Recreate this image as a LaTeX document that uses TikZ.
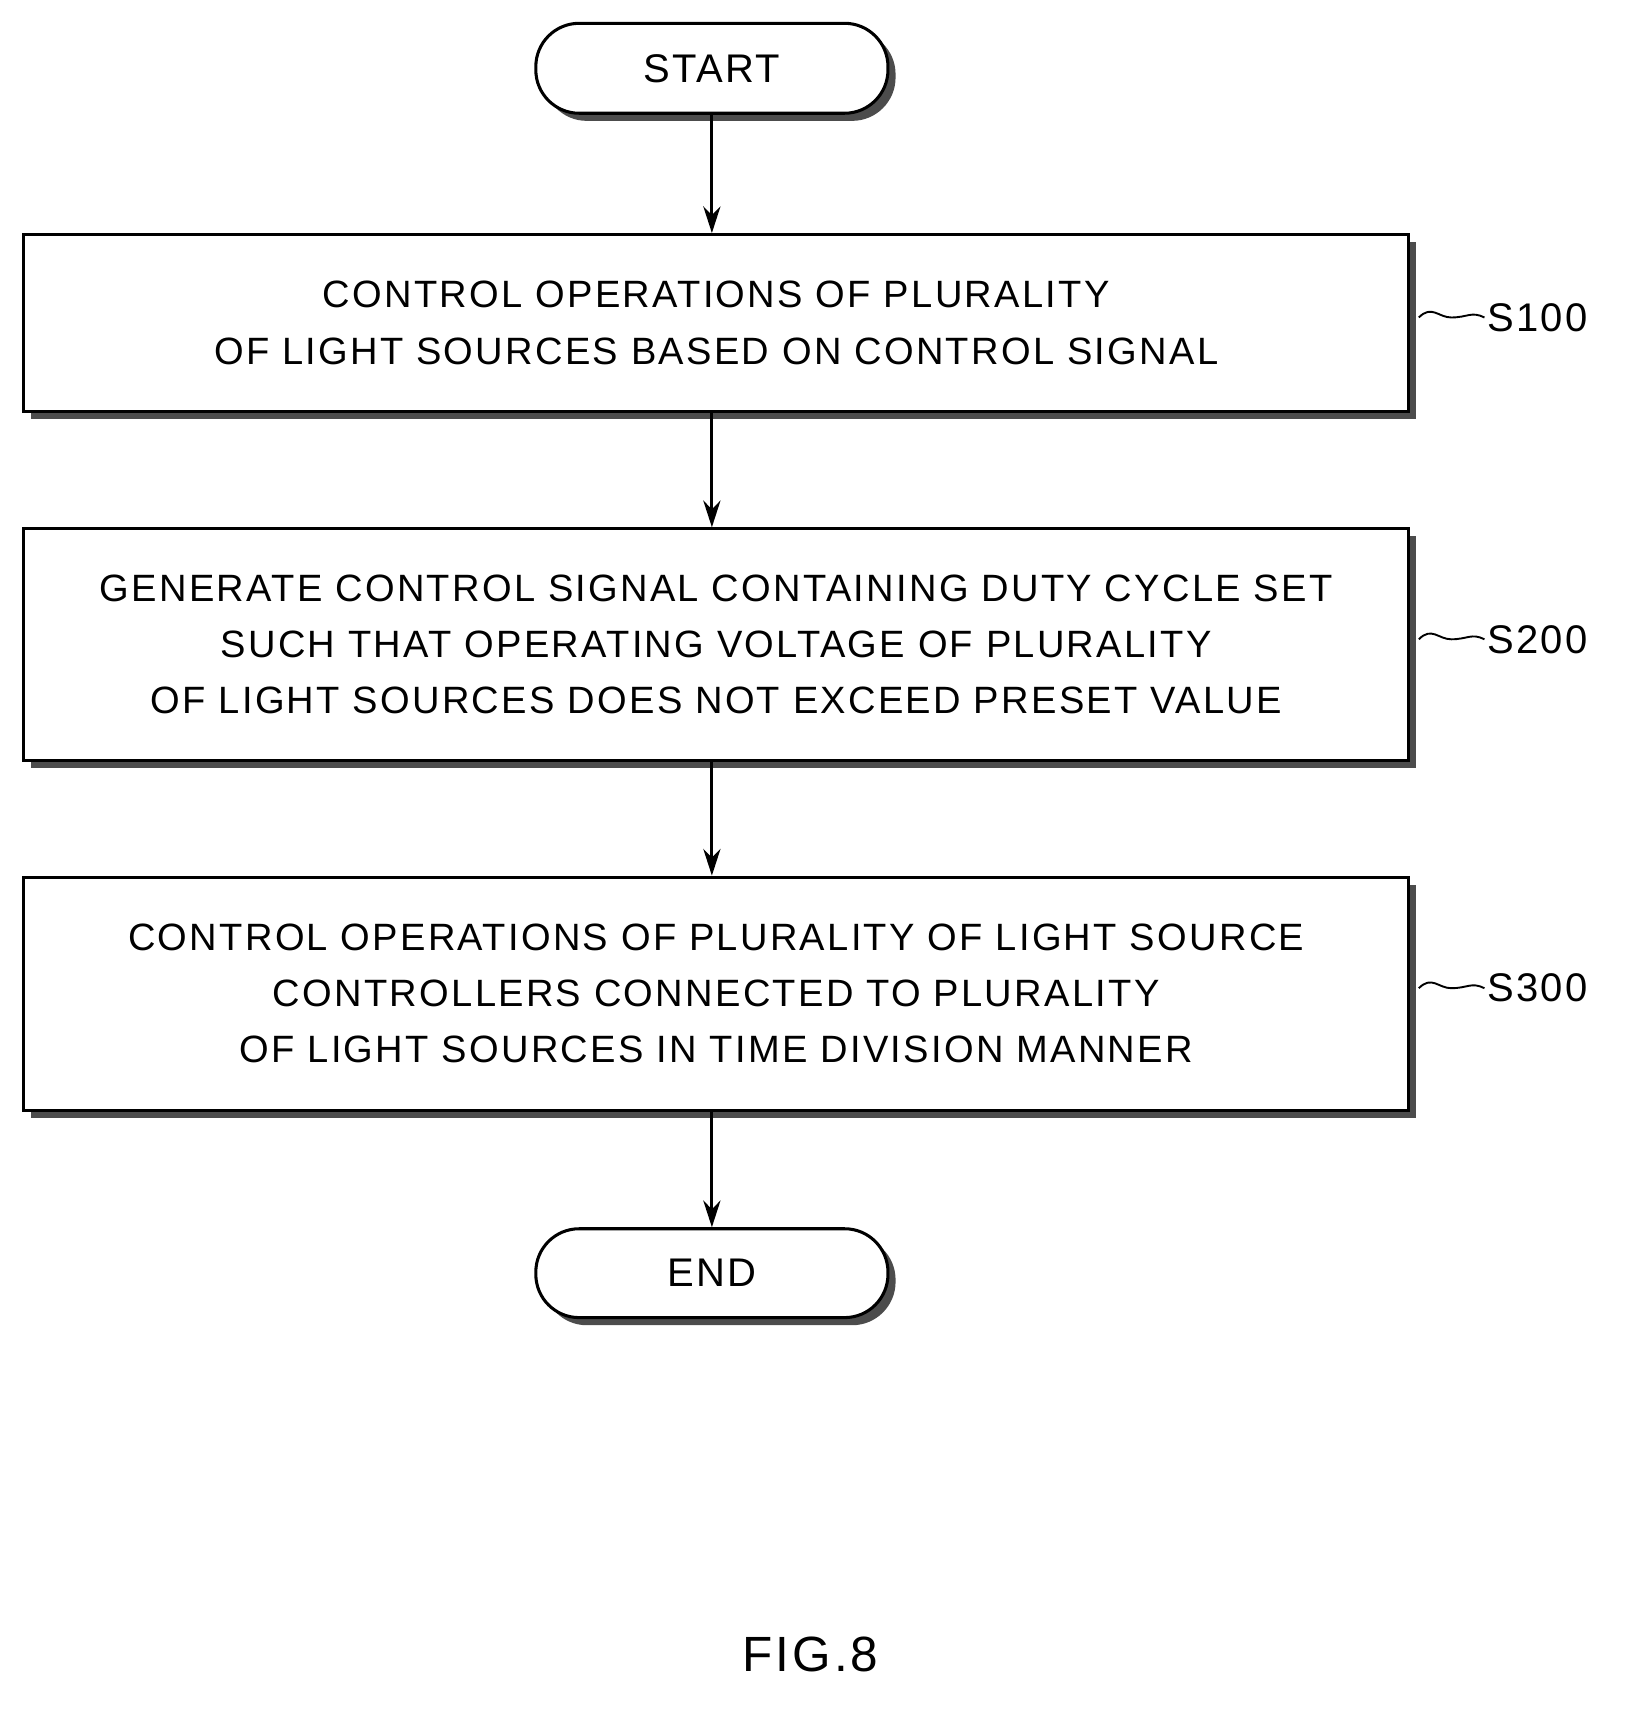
\documentclass[tikz,border=0pt]{standalone}
\usepackage{fontspec}
\setmainfont{Liberation Sans}[LetterSpace=6]
\usetikzlibrary{shadows,arrows.meta,calc}
\begin{document}
\begin{tikzpicture}[x=0.02cm,y=-0.02cm,
  box/.style={draw,line width=1.6pt,fill=white,minimum width=1278*0.02cm,align=center,
    font=\fontsize{20}{29.5}\selectfont,
    drop shadow={shadow xshift=4pt,shadow yshift=-4pt,fill=black!70,opacity=1}},
  term/.style={draw,line width=1.6pt,fill=white,rounded corners=0.8cm,minimum width=325*0.02cm,
    font=\fontsize{21}{26}\selectfont,
    drop shadow={shadow xshift=4pt,shadow yshift=-4pt,fill=black!70,opacity=1}},
  arr/.style={-{Stealth[length=14pt,width=9pt]},line width=1.6pt},
  lab/.style={font=\fontsize{21}{26}\selectfont,anchor=west,inner sep=0pt}]
\useasboundingbox (0,0) rectangle (1501,1580);
\node[term,minimum height=83*0.02cm] (start) at (657,63) {START};
\node[box,minimum height=163*0.02cm] (s1) at (661,298) {CONTROL OPERATIONS OF PLURALITY\\OF LIGHT SOURCES BASED ON CONTROL SIGNAL};
\node[box,minimum height=214*0.02cm] (s2) at (661,595) {GENERATE CONTROL SIGNAL CONTAINING DUTY CYCLE SET\\SUCH THAT OPERATING VOLTAGE OF PLURALITY\\OF LIGHT SOURCES DOES NOT EXCEED PRESET VALUE};
\node[box,minimum height=215*0.02cm] (s3) at (661,917) {CONTROL OPERATIONS OF PLURALITY OF LIGHT SOURCE\\CONTROLLERS CONNECTED TO PLURALITY\\OF LIGHT SOURCES IN TIME DIVISION MANNER};
\node[term,minimum height=82*0.02cm] (end) at (657,1175) {END};
\draw[arr] (start.south -| 657,0) -- (s1.north -| 657,0);
\draw[arr] (s1.south -| 657,0) -- (s2.north -| 657,0);
\draw[arr] (s2.south -| 657,0) -- (s3.north -| 657,0);
\draw[arr] (s3.south -| 657,0) -- (end.north -| 657,0);
\node[lab] (l1) at (1372,293) {S100};
\node[lab] (l2) at (1372,590) {S200};
\node[lab] (l3) at (1372,912) {S300};
\foreach \b/\l in {s1/l1,s2/l2,s3/l3}{
  \draw[line width=1pt] ($(\b.east |- \l.west)+(8,0)$) .. controls +(12,-12) and +(-12,0) .. ($(\b.east |- \l.west)+(38,0)$) .. controls +(15,0) and +(-12,-6) .. ($(\l.west)+(-2,0)$);
}
\node[font=\fontsize{26}{30}\selectfont] (fig) at (748,1527) {FIG.8};
\end{tikzpicture}
\end{document}
